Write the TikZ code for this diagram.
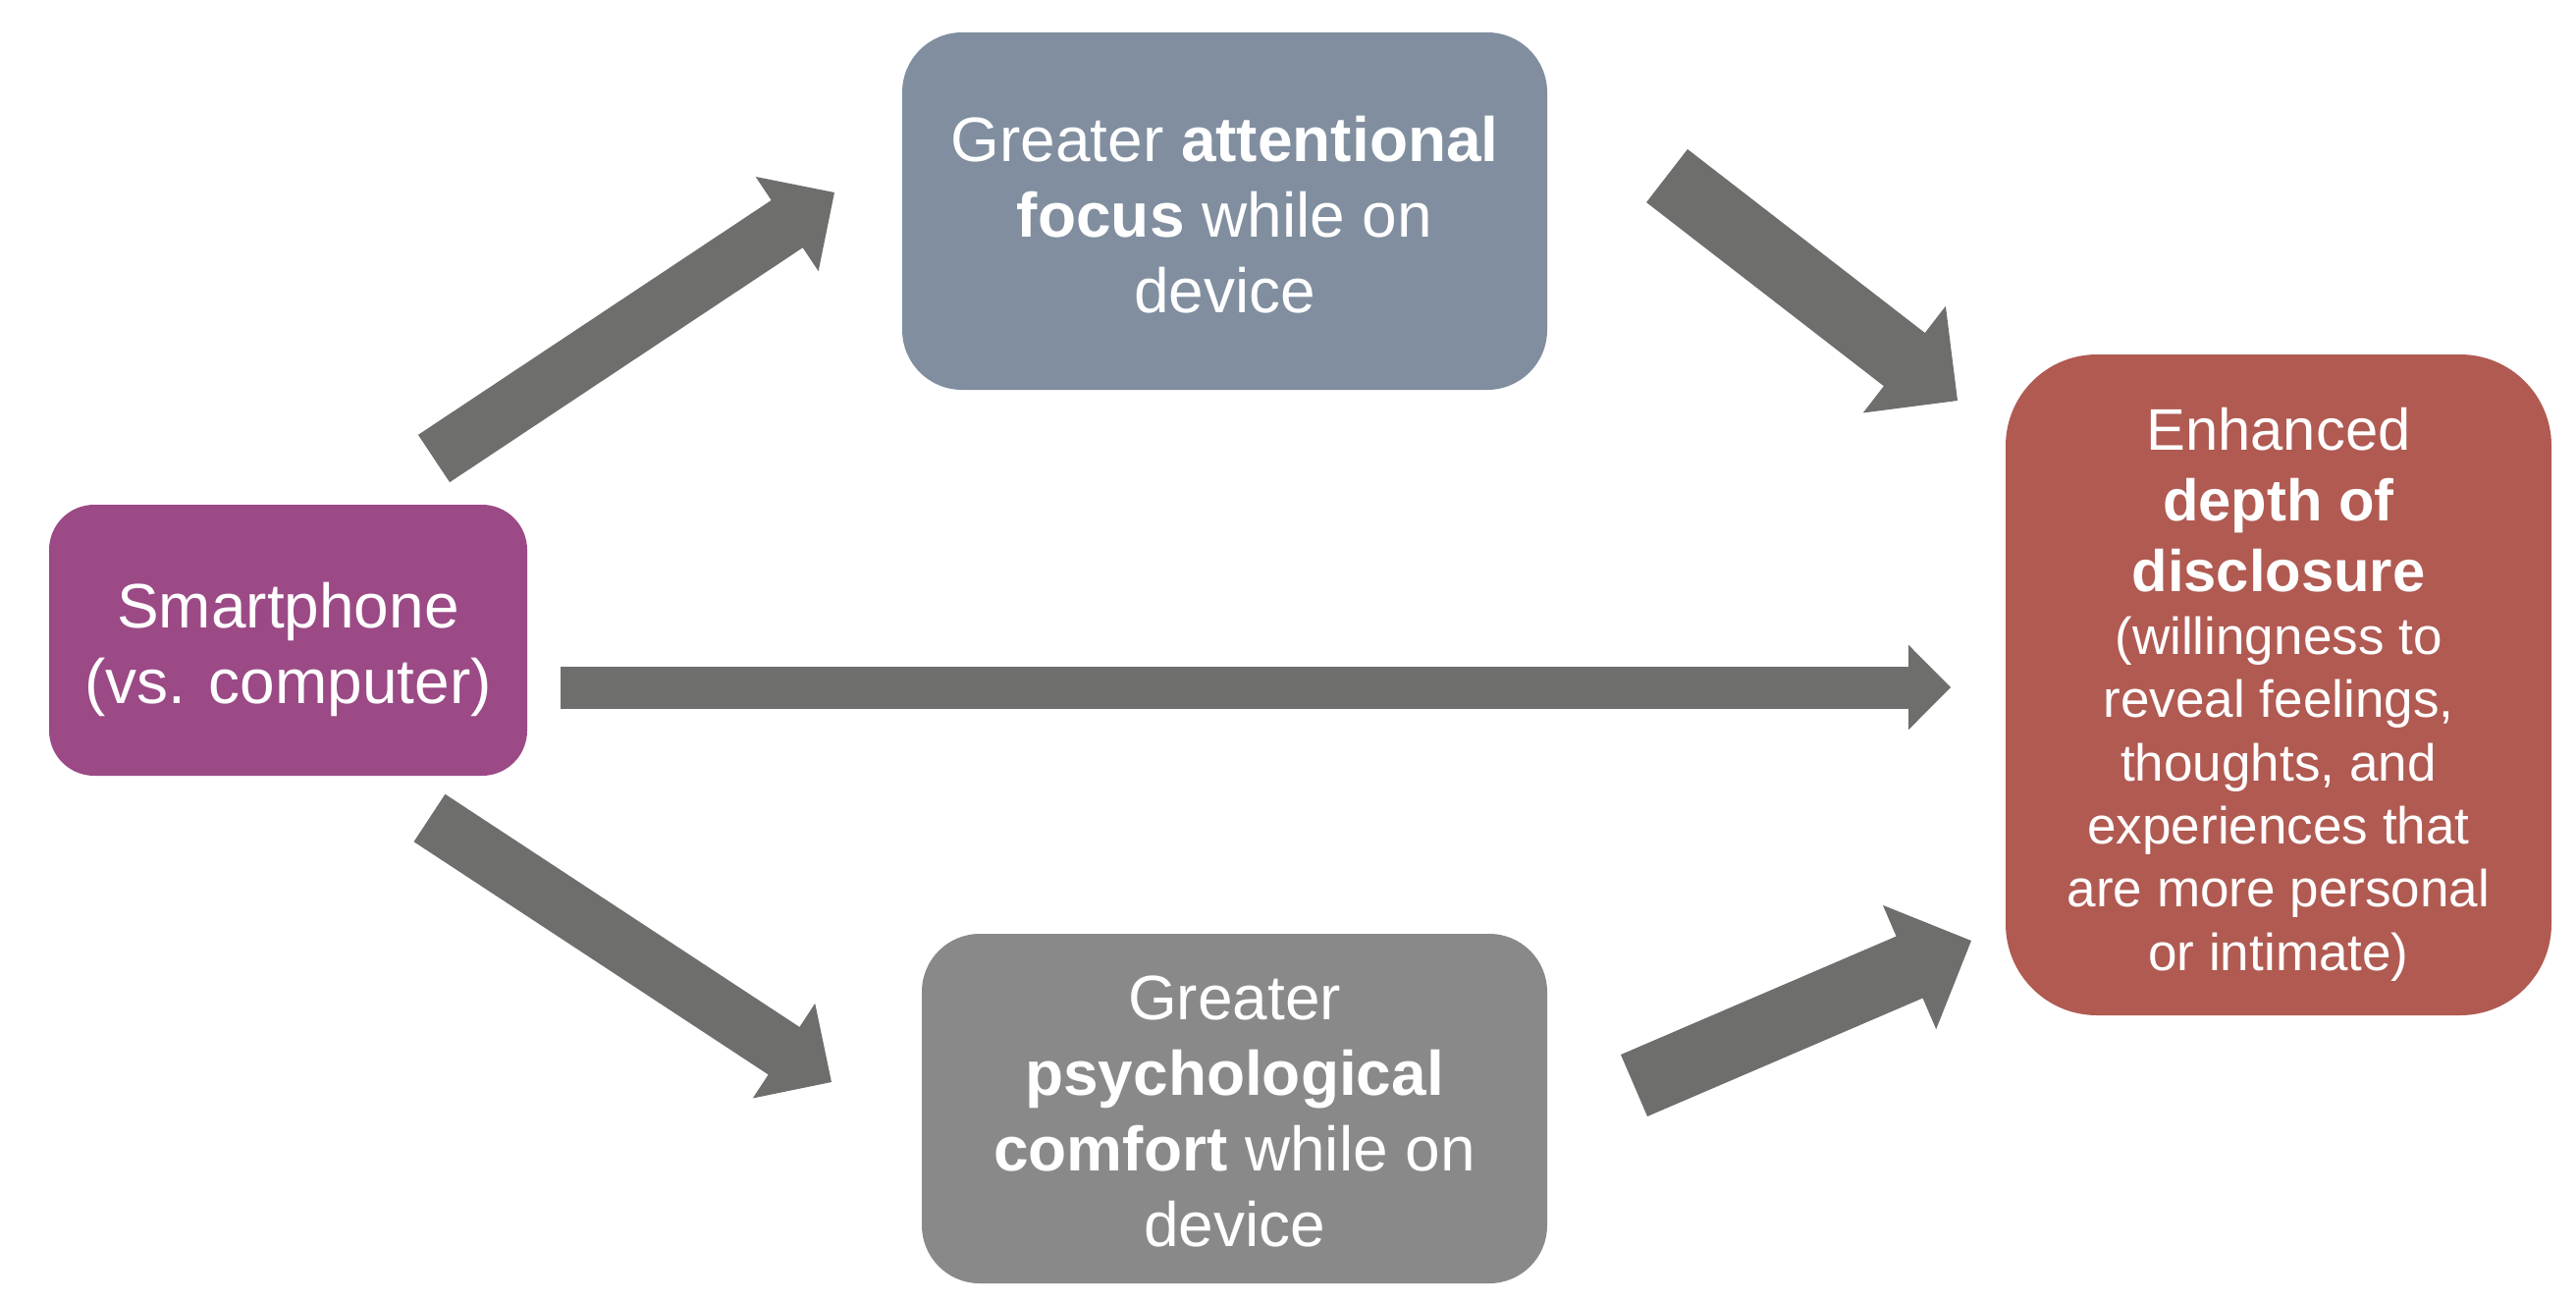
\documentclass[tikz,border=0pt]{standalone}
\usepackage{fontspec}
\setmainfont{Liberation Sans}
\usetikzlibrary{arrows.meta}
%cores das caixas e das setas
\definecolor{roxo}{RGB}{155,74,134}
\definecolor{azulcinza}{RGB}{128,142,159}
\definecolor{cinza}{RGB}{137,137,137}
\definecolor{vermelho}{RGB}{176,90,82}
\definecolor{cinzaseta}{RGB}{110,110,108}
\tikzset{
 caixa/.style={draw=none, inner sep=0pt},
 texto/.style={text=white, align=center, inner sep=0pt, font=\fontsize{18.2}{21.9}\selectfont},
 seta larga/.style={draw=cinzaseta, line width=6.85mm, -{Triangle[length=6.85mm, width=13.7mm, line width=0.8pt]}},
 seta media/.style={draw=cinzaseta, line width=5.8mm, -{Triangle[length=5.8mm, width=11.5mm, line width=0.8pt]}},
 seta fina/.style={draw=cinzaseta, line width=4.3mm, -{Triangle[length=4.3mm, width=8.6mm, line width=0.8pt]}}
}
\begin{document}
\begin{tikzpicture}[x=0.1mm, y=-0.1mm]
%área da figura (em pixels)
 \useasboundingbox (0,0) rectangle (2624,1326);
%caixas
 \node[caixa, fill=roxo, minimum width=48.7mm, minimum height=27.6mm, rounded corners=4.6mm] (celular) at (293.5,652) {};
 \node[caixa, fill=azulcinza, minimum width=65.7mm, minimum height=36.4mm, rounded corners=6.1mm] (foco) at (1247.5,215) {};
 \node[caixa, fill=cinza, minimum width=63.7mm, minimum height=35.6mm, rounded corners=5.9mm] (conforto) at (1257.5,1129) {};
 \node[caixa, fill=vermelho, minimum width=55.6mm, minimum height=67.3mm, rounded corners=9.3mm] (revelacao) at (2321,697.5) {};
%textos das caixas
 \node[texto] (celular-txt) at ([yshift=-2.6pt]celular.center) {Smartphone\\ (vs. computer)};
 \node[texto] (foco-txt) at ([yshift=-0.9pt]foco.center) {Greater \textbf{attentional}\\ \textbf{focus} while on\\ device};
 \node[texto] (conforto-txt) at ([yshift=-0.9pt]conforto.center) {Greater\\ \textbf{psychological}\\ \textbf{comfort} while on\\ device};
 \node[texto, font=\fontsize{15.1}{18.3}\selectfont] (revelacao-txt) at ([yshift=-2.7pt]revelacao.center) {{\fontsize{17}{20.5}\selectfont Enhanced}\\[2.2pt] {\fontsize{17}{20.5}\selectfont\bfseries depth of}\\[2.2pt] {\fontsize{17}{20.5}\selectfont\bfseries disclosure}\\ (willingness to\\ reveal feelings,\\ thoughts, and\\ experiences that\\ are more personal\\ or intimate)};
%pontas das setas
 \coordinate (a1) at (442,467); \coordinate (b1) at (850,196);
 \coordinate (a2) at (1698,179); \coordinate (b2) at (1994,408);
 \coordinate (a3) at (571,700); \coordinate (b3) at (1987,700);
 \coordinate (a4) at (437.5,833); \coordinate (b4) at (847,1102);
 \coordinate (a5) at (1664.5,1105.5); \coordinate (b5) at (2008,958);
%setas
 \draw[seta media] (a1) -- (b1);%celular para foco
 \draw[seta larga] (a2) -- (b2);%foco para revelação
 \draw[seta fina] (a3) -- (b3);%efeito direto
 \draw[seta media] (a4) -- (b4);%celular para conforto
 \draw[seta larga] (a5) -- (b5);%conforto para revelação
\end{tikzpicture}
\end{document}
